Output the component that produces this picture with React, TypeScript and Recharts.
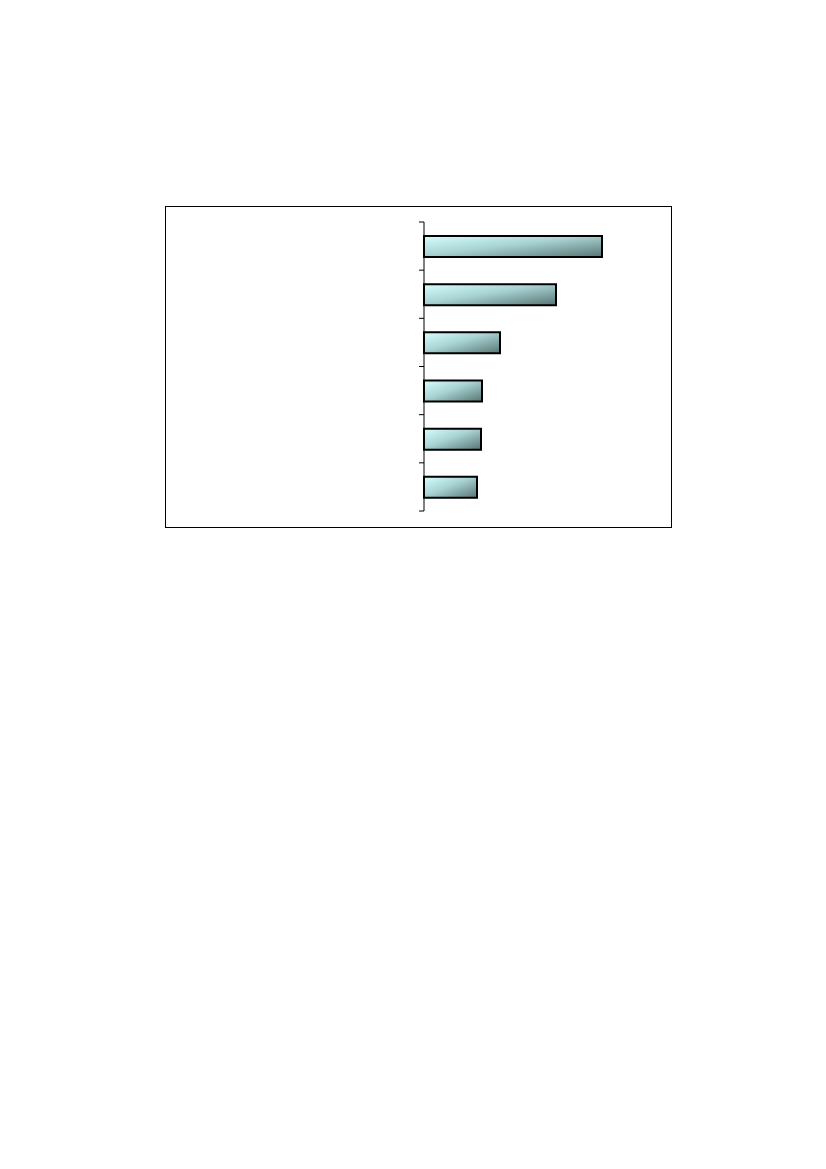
import React from 'react';
import { BarChart, Bar, XAxis, YAxis } from 'recharts';

// category names are not printed in the reference, only the bars are
const categories = ['A', 'B', 'C', 'D', 'E', 'F'];
const values = [178, 132, 76, 58, 57, 53];

const data = categories.map((name, i) => ({ name, value: values[i] }));

// tick marks sit between categories (Excel style), not at band centres
const BoundaryTick = (props: any) => {
  const { x, y, payload, index, visibleTicksCount } = props;
  const half = payload?.offset ?? 0;
  const isLast = index === visibleTicksCount - 1;
  return (
    <g>
      <line x1={x - 5} x2={x} y1={y - half} y2={y - half} stroke="#000" strokeWidth={1} />
      {isLast && <line x1={x - 5} x2={x} y1={y + half} y2={y + half} stroke="#000" strokeWidth={1} />}
    </g>
  );
};

const App: React.FC = () => {
  return (
    <div
      style={{
        position: 'absolute',
        left: 165,
        top: 206,
        width: 505,
        height: 320,
        border: '1px solid #000',
        background: '#fff',
      }}
    >
      <BarChart
        width={505}
        height={320}
        data={data}
        layout="vertical"
        margin={{ top: 15, right: 47, left: 248, bottom: 16 }}
        barCategoryGap={0}
      >
        <defs>
          <linearGradient id="barFill" x1="0" y1="0" x2="1" y2="1">
            <stop offset="0%" stopColor="#d4ffff" />
            <stop offset="45%" stopColor="#a9d4d4" />
            <stop offset="100%" stopColor="#587473" />
          </linearGradient>
        </defs>
        <XAxis type="number" domain={[0, 200]} hide />
        <YAxis
          type="category"
          dataKey="name"
          width={10}
          tickSize={0}
          tickMargin={0}
          tickLine={false}
          tick={<BoundaryTick />}
          axisLine={{ stroke: '#000', strokeWidth: 1 }}
        />
        <Bar
          dataKey="value"
          barSize={21}
          fill="url(#barFill)"
          stroke="#000"
          strokeWidth={2}
          isAnimationActive={false}
        />
      </BarChart>
    </div>
  );
};

export default App;
